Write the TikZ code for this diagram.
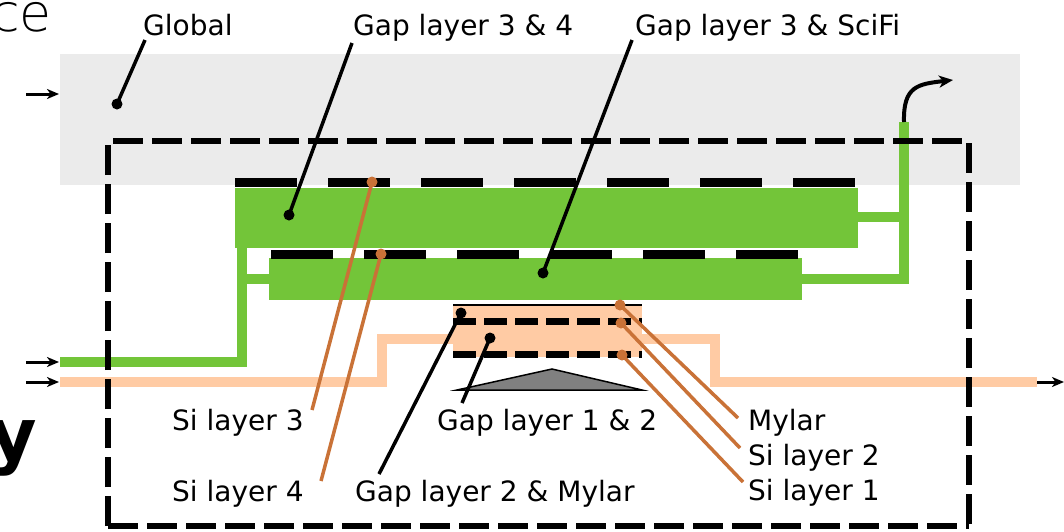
\documentclass[tikz,border=0pt]{standalone}
\usepackage{fontspec}
\setmainfont{DejaVu Sans}
\newfontfamily\thinfont{DejaVu Sans ExtraLight}
\newfontfamily\boldfont{DejaVu Sans Bold}
\usetikzlibrary{arrows.meta}
\definecolor{slabgreen}{RGB}{115,197,57}
\definecolor{peach}{RGB}{255,203,164}
\definecolor{ptrorange}{RGB}{201,114,55}
\definecolor{bggray}{RGB}{235,235,235}
\definecolor{trigray}{RGB}{128,128,128}
\begin{document}
\begin{tikzpicture}[x=1pt,y=-1pt,
  lbl/.style={inner sep=0pt, anchor=base west, font=\fontsize{28}{34}\selectfont},
  ptr/.style={line width=3.5pt, draw=black},
  optr/.style={line width=3.5pt, draw=ptrorange},
  dotb/.style={circle, fill=black, inner sep=0pt, minimum size=11pt},
  doto/.style={circle, fill=ptrorange, inner sep=0pt, minimum size=11pt},
  gline/.style={line width=10pt, draw=slabgreen},
  pline/.style={line width=10pt, draw=peach},
  inarrow/.style={line width=3pt, -{Stealth[length=12pt,width=10pt,inset=3.5pt]}},
  slabdash/.style={line width=9pt, dash pattern=on 62pt off 31pt},
  sidash/.style={line width=7pt, dash pattern=on 23pt off 8pt},
  outerdash/.style={line width=6pt, dash pattern=on 30pt off 9pt}
]
\useasboundingbox (0,0) rectangle (1064,531);

% partial texts at edges
\node[inner sep=0pt, anchor=base east, font=\thinfont\fontsize{52}{60}\selectfont] (ce) at (52,31) {ce};
\node[inner sep=0pt, anchor=base east, font=\boldfont\fontsize{73}{80}\selectfont] (yy) at (37,460) {y};

% global region
\fill[bggray] (60,54) rectangle (1020,185);

% peach (Si) line
\draw[pline] (60,382) -- (382,382) -- (382,339) -- (715,339) -- (715,382) -- (1037,382);

% green gas lines
\draw[gline] (60,362) -- (242,362) -- (242,246);
\draw[gline] (242,279) -- (272,279);
\draw[gline] (856,217) -- (904,217);
\draw[gline] (904,122) -- (904,279) -- (800,279);

% slabs
\fill[slabgreen] (235,188) rectangle (858,248);
\fill[slabgreen] (269,258) rectangle (802,300);
\draw[slabdash] (235,182.5) -- (858,182.5);
\draw[slabdash] (271,254) -- (802,254);

% silicon box
\fill[peach] (453,305) rectangle (642,357);
\draw[line width=1.5pt] (453,305) -- (642,305);
\draw[sidash] (453,321) -- (642,321);
\draw[sidash] (453,354) -- (642,354);

% beam triangle
\draw[fill=trigray, line width=1.5pt, line join=miter] (457,390) -- (552,369) -- (642,390) -- cycle;

% in/out arrows
\coordinate (a1s) at (26,94);  \coordinate (a1e) at (59,94);
\coordinate (a2s) at (26,362); \coordinate (a2e) at (59,362);
\coordinate (a3s) at (26,382); \coordinate (a3e) at (59,382);
\coordinate (a4s) at (1037,382); \coordinate (a4e) at (1064,382);
\draw[inarrow] (a1s) -- (a1e);
\draw[inarrow] (a2s) -- (a2e);
\draw[inarrow] (a3s) -- (a3e);
\draw[inarrow] (a4s) -- (a4e);
\coordinate (outs) at (904,122);
\coordinate (oute) at (953,80);
\draw[line width=4pt, -{Stealth[length=14pt,width=12pt,inset=4pt]}] (outs) .. controls (903,86) and (918,84) .. (oute);

% outer dashed boundary
\draw[outerdash] (108,526) -- (108,141) -- (969,141) -- (969,531);
\draw[outerdash] (108,526) -- (969,526);

% labels
\node[lbl] (tGlobal) at (143,35) {Global};
\node[lbl] (tG34) at (353,35) {Gap layer 3 \& 4};
\node[lbl] (tG3S) at (635,35) {Gap layer 3 \& SciFi};
\node[lbl] (tSi3) at (172,430) {Si layer 3};
\node[lbl] (tSi4) at (172,501) {Si layer 4};
\node[lbl] (tG12) at (437,430) {Gap layer 1 \& 2};
\node[lbl] (tG2M) at (355,501) {Gap layer 2 \& Mylar};
\node[lbl] (tMy) at (748,430) {Mylar};
\node[lbl] (tSi2) at (748,465) {Si layer 2};
\node[lbl] (tSi1) at (748,500) {Si layer 1};

% pointer start points near labels
\coordinate (pGlobal) at (145,40);
\coordinate (pG34) at (352,43);
\coordinate (pG3S) at (632,40);
\coordinate (pSi3) at (312,410);
\coordinate (pSi4) at (321,481);
\coordinate (pG12) at (462,403);
\coordinate (pG2M) at (379,474);
\coordinate (pMy) at (738,418);
\coordinate (pSi2) at (740,448);
\coordinate (pSi1) at (743,482);

% pointer dots
\node[dotb] (dGlobal) at (117,104) {};
\node[dotb] (dG34) at (289,215) {};
\node[dotb] (dG3S) at (543,273) {};
\node[doto] (dSi3) at (372,182) {};
\node[doto] (dSi4) at (381,254) {};
\node[dotb] (dG12) at (490,338) {};
\node[dotb] (dG2M) at (461,313) {};
\node[doto] (dMy) at (620,305) {};
\node[doto] (dSi2) at (621,323) {};
\node[doto] (dSi1) at (622,355) {};

\draw[ptr] (pGlobal) -- (dGlobal.center);
\draw[ptr] (pG34) -- (dG34.center);
\draw[ptr] (pG3S) -- (dG3S.center);
\draw[optr] (pSi3) -- (dSi3.center);
\draw[optr] (pSi4) -- (dSi4.center);
\draw[ptr] (pG12) -- (dG12.center);
\draw[ptr] (pG2M) -- (dG2M.center);
\draw[optr] (pMy) -- (dMy.center);
\draw[optr] (pSi2) -- (dSi2.center);
\draw[optr] (pSi1) -- (dSi1.center);
\end{tikzpicture}
\end{document}
